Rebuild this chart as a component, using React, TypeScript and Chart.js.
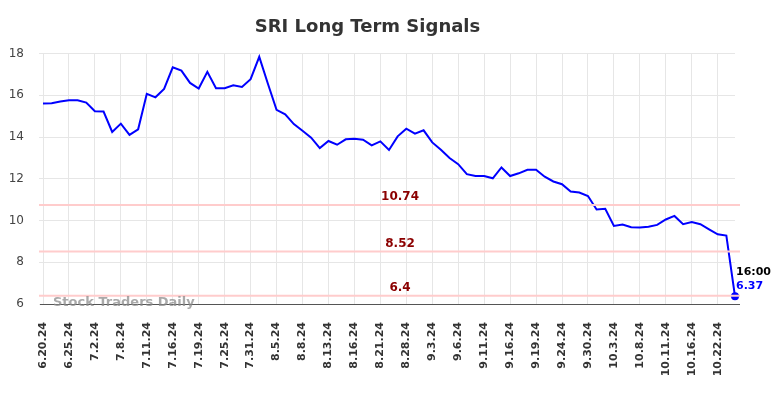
import React, { useEffect, useRef } from "react";
import { Chart, registerables } from "chart.js";

Chart.register(...registerables);

const titleText = "SRI Long Term Signals";
const watermarkText = "Stock Traders Daily";
const lastTimeLabel = "16:00";

const dates = [
  "6.20.24", "6.21.24", "6.24.24", "6.25.24", "6.26.24", "6.28.24", "7.2.24", "7.3.24", "7.5.24",
  "7.8.24", "7.9.24", "7.10.24", "7.11.24", "7.12.24", "7.15.24", "7.16.24", "7.17.24", "7.18.24",
  "7.19.24", "7.22.24", "7.23.24", "7.25.24", "7.26.24", "7.29.24", "7.31.24", "8.1.24", "8.2.24",
  "8.5.24", "8.6.24", "8.7.24", "8.8.24", "8.9.24", "8.12.24", "8.13.24", "8.14.24", "8.15.24",
  "8.16.24", "8.19.24", "8.20.24", "8.21.24", "8.22.24", "8.26.24", "8.28.24", "8.29.24", "8.30.24",
  "9.3.24", "9.4.24", "9.5.24", "9.6.24", "9.9.24", "9.10.24", "9.11.24", "9.12.24", "9.13.24",
  "9.16.24", "9.17.24", "9.18.24", "9.19.24", "9.20.24", "9.23.24", "9.24.24", "9.25.24", "9.27.24",
  "9.30.24", "10.1.24", "10.2.24", "10.3.24", "10.4.24", "10.7.24", "10.8.24", "10.9.24", "10.10.24",
  "10.11.24", "10.14.24", "10.15.24", "10.16.24", "10.17.24", "10.21.24", "10.22.24", "10.23.24", "10.24.24",
];

const prices = [
  15.61, 15.62, 15.70, 15.76, 15.76, 15.65, 15.23, 15.22, 14.24,
  14.64, 14.10, 14.37, 16.07, 15.90, 16.30, 17.34, 17.18, 16.59,
  16.32, 17.12, 16.34, 16.34, 16.48, 16.40, 16.77, 17.84, 16.55,
  15.30, 15.09, 14.62, 14.30, 13.97, 13.47, 13.81, 13.63, 13.89,
  13.92, 13.87, 13.60, 13.79, 13.38, 14.03, 14.40, 14.16, 14.32,
  13.74, 13.39, 12.99, 12.70, 12.22, 12.13, 12.13, 12.02, 12.54,
  12.13, 12.26, 12.43, 12.43, 12.10, 11.87, 11.74, 11.39, 11.34,
  11.17, 10.53, 10.56, 9.74, 9.81, 9.68, 9.66, 9.70, 9.79,
  10.05, 10.22, 9.82, 9.93, 9.82, 9.58, 9.34, 9.28, 6.37,
];

const signalLevels = [10.74, 8.52, 6.4];
const yMin = 6;
const yMax = 18;
const yStep = 2;

const overlayPlugin = {
  id: "overlay",
  afterDatasetsDraw(chart: any) {
    const { ctx, chartArea } = chart;
    const ys = chart.scales.y;
    ctx.save();

    // bottom axis line
    ctx.strokeStyle = "#555555";
    ctx.lineWidth = 1;
    const by = Math.round(chartArea.bottom) + 0.5;
    ctx.beginPath();
    ctx.moveTo(chartArea.left - 3, by);
    ctx.lineTo(chartArea.right + 5, by);
    ctx.stroke();

    // signal lines
    ctx.strokeStyle = "#ffcccc";
    ctx.lineWidth = 2;
    signalLevels.forEach((lv) => {
      const py = ys.getPixelForValue(lv);
      ctx.beginPath();
      ctx.moveTo(chartArea.left - 4, py);
      ctx.lineTo(chartArea.right + 5, py);
      ctx.stroke();
    });

    // signal labels
    ctx.fillStyle = "#8b0000";
    ctx.font = "bold 12px 'DejaVu Sans'";
    ctx.textAlign = "center";
    ctx.textBaseline = "middle";
    const lx = chartArea.left + (chartArea.right - chartArea.left) * 0.516;
    signalLevels.forEach((lv) => {
      const py = ys.getPixelForValue(lv);
      ctx.fillText(String(lv), lx, py - 8);
    });

    // watermark
    ctx.fillStyle = "rgba(140,140,140,0.75)";
    ctx.font = "bold 13px 'DejaVu Sans'";
    ctx.textAlign = "left";
    ctx.textBaseline = "middle";
    ctx.fillText(watermarkText, chartArea.left + 10, chartArea.bottom - 1);

    // last point annotation
    const meta = chart.getDatasetMeta(0);
    const last = meta.data[meta.data.length - 1];
    const lastVal = prices[prices.length - 1];
    ctx.font = "bold 11px 'DejaVu Sans'";
    ctx.textAlign = "left";
    ctx.fillStyle = "#000000";
    ctx.fillText(lastTimeLabel, last.x + 1, last.y - 24);
    ctx.fillStyle = "#0000ff";
    ctx.fillText(lastVal.toFixed(2), last.x + 1, last.y - 10);

    ctx.restore();
  },
};

export default function App() {
  const canvasRef = useRef<HTMLCanvasElement | null>(null);

  useEffect(() => {
    if (!canvasRef.current) return;
    Chart.defaults.font.family = "'DejaVu Sans'";
    const lastIdx = prices.length - 1;
    const chart = new Chart(canvasRef.current, {
      type: "line",
      data: {
        labels: dates,
        datasets: [
          {
            data: prices,
            borderColor: "#0000ff",
            backgroundColor: "#0000ff",
            borderWidth: 2,
            tension: 0,
            pointRadius: (c: any) => (c.dataIndex === lastIdx ? 4 : 0),
            pointHoverRadius: 0,
            pointBorderWidth: 0,
          },
        ],
      },
      options: {
        responsive: false,
        animation: false,
        devicePixelRatio: 1,
        layout: { padding: { left: 0, right: 49, top: 0, bottom: 0 } },
        plugins: {
          legend: { display: false },
          tooltip: { enabled: false },
          title: {
            display: true,
            text: titleText,
            color: "#333333",
            font: { size: 18, weight: "bold", family: "'DejaVu Sans'", lineHeight: 1.2 },
            padding: { top: 16.5, bottom: 15.4 },
          },
        },
        scales: {
          x: {
            offset: false,
            grid: { color: "#e6e6e6", lineWidth: 1, drawTicks: false },
            border: { display: false },
            ticks: {
              autoSkip: false,
              minRotation: 90,
              maxRotation: 90,
              padding: 18,
              color: "#333333",
              font: { size: 11, weight: "bold" },
              callback: (_v: any, i: number) => (i % 3 === 0 ? dates[i] : null),
            },
            afterFit: (s: any) => {
              s.height = 94;
            },
          },
          y: {
            min: yMin,
            max: yMax,
            grid: { color: "#e6e6e6", lineWidth: 1, drawTicks: true, tickLength: 4 },
            border: { display: false },
            ticks: {
              stepSize: yStep,
              padding: 15,
              color: "#444444",
              font: { size: 12 },
            },
            afterFit: (s: any) => {
              s.width = 43;
            },
          },
        },
      },
      plugins: [overlayPlugin],
    });
    return () => chart.destroy();
  }, []);

  return (
    <div style={{ position: "fixed", left: 0, top: 0, width: 784, height: 398, background: "#fff" }}>
      <canvas ref={canvasRef} width={784} height={398} style={{ display: "block" }} />
    </div>
  );
}
